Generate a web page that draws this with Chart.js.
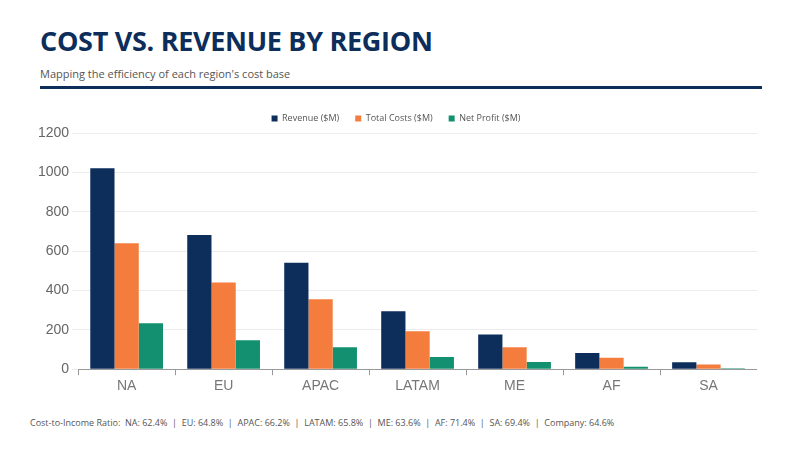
<!DOCTYPE html>
<html>
<head>
<meta charset="utf-8">
<script src="https://cdn.jsdelivr.net/npm/chart.js@4"></script>
<style>
  body { margin: 0; width: 800px; height: 450px; background: #fff; font-family: "Open Sans", sans-serif; position: relative; overflow: hidden; }
  h1 { position: absolute; left: 40px; top: 22px; margin: 0; font-size: 27px; font-weight: 700; color: #0d2d5b; letter-spacing: -0.3px; }
  .sub { position: absolute; left: 40px; top: 66px; font-size: 11px; color: #555; }
  .rule { position: absolute; left: 40px; top: 86px; width: 722px; height: 3px; background: #0d2d5b; }
  .chart { position: absolute; left: 35px; top: 98px; width: 722px; height: 300px; }
  .foot { position: absolute; left: 30px; top: 416px; font-size: 9px; color: #555; }
</style>
</head>
<body>
<h1>COST VS. REVENUE BY REGION</h1>
<div class="sub">Mapping the efficiency of each region's cost base</div>
<div class="rule"></div>
<div class="chart"><canvas id="c"></canvas></div>
<div class="foot">Cost-to-Income Ratio:&nbsp; NA: 62.4% &nbsp;|&nbsp; EU: 64.8% &nbsp;|&nbsp; APAC: 66.2% &nbsp;|&nbsp; LATAM: 65.8% &nbsp;|&nbsp; ME: 63.6% &nbsp;|&nbsp; AF: 71.4% &nbsp;|&nbsp; SA: 69.4% &nbsp;|&nbsp; Company: 64.6%</div>
<script>
const regions = ["NA", "EU", "APAC", "LATAM", "ME", "AF", "SA"];
const revenue = [1021, 682, 541, 295, 176, 82, 35];
const totalCosts = [640, 440, 355, 193, 112, 58, 24];
const netProfit = [233, 147, 112, 62, 37, 12, 5];

new Chart(document.getElementById("c"), {
  type: "bar",
  data: {
    labels: regions,
    datasets: [
      { label: "Revenue ($M)", data: revenue, backgroundColor: "#0d2d5b" },
      { label: "Total Costs ($M)", data: totalCosts, backgroundColor: "#f47c3c" },
      { label: "Net Profit ($M)", data: netProfit, backgroundColor: "#13906f" },
    ],
  },
  options: {
    responsive: true,
    maintainAspectRatio: false,
    animation: false,
    categoryPercentage: 0.75,
    barPercentage: 1,
    layout: { padding: { top: 0 } },
    plugins: {
      legend: {
        labels: { boxWidth: 6, boxHeight: 6, font: { size: 9, family: "Open Sans" }, color: "#555", padding: 16 },
      },
    },
    scales: {
      x: {
        grid: { display: true, drawOnChartArea: false, color: "#999", tickLength: 6 },
        border: { color: "#999" },
        ticks: { font: { size: 14, family: "Liberation Sans" }, color: "#777" },
      },
      y: {
        min: 0, max: 1200,
        ticks: { stepSize: 200, callback: (v) => String(v), font: { size: 14, family: "Liberation Sans" }, color: "#666" },
        grid: { color: "#ececec", tickLength: 6 },
        border: { display: false },
      },
    },
  },
});
</script>
</body>
</html>
